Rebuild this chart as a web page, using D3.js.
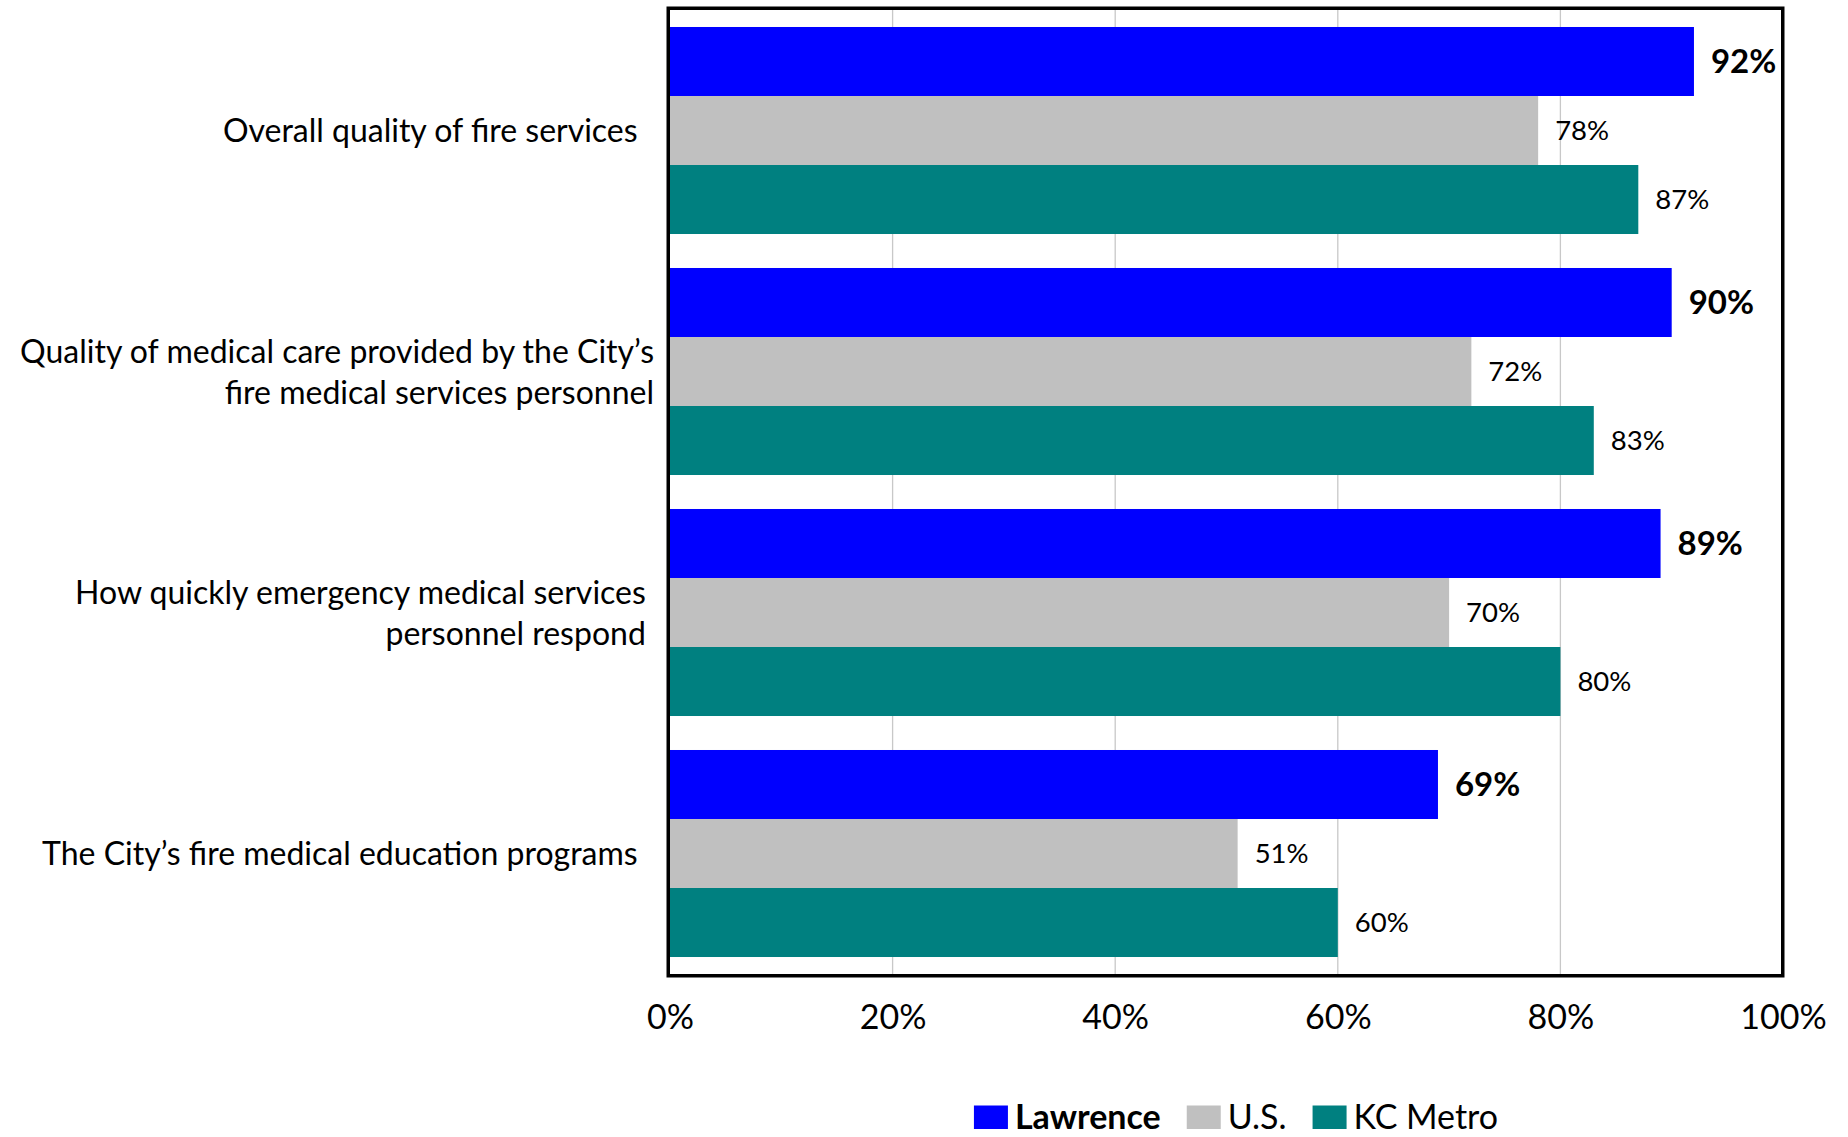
<!DOCTYPE html>
<html>
<head>
<meta charset="utf-8">
<script src="https://cdn.jsdelivr.net/npm/d3@7"></script>
<style>
  html, body { margin: 0; padding: 0; background: #fff; }
  svg { display: block; font-family: Lato, "Open Sans", sans-serif; }
</style>
</head>
<body>
<svg id="chart" width="1848" height="1137"></svg>
<script>
// Survey categories (each entry holds the wrapped lines of its label)
const categories = [
  ["Overall quality of fire services  "],
  ["Quality of medical care provided by the City\u2019s", "fire medical services personnel"],
  ["How quickly emergency medical services ", "personnel respond "],
  ["The City\u2019s fire medical education programs  "]
];
const seriesNames = ["Lawrence", "U.S.", "KC Metro"];
const lawrence = [92, 90, 89, 69];
const us = [78, 72, 70, 51];
const kcMetro = [87, 83, 80, 60];
const tickValues = [0, 20, 40, 60, 80, 100];
const seriesColors = ["#0000FF", "#C0C0C0", "#008080"];

const seriesValues = [lawrence, us, kcMetro];

const svg = d3.select("#chart");
const plot = { left: 670, right: 1783, top: 10, bottom: 974 };

const x = d3.scaleLinear().domain([0, 100]).range([plot.left, plot.right]);
const y0 = d3.scaleBand()
  .domain(d3.range(categories.length))
  .range([plot.top, plot.bottom])
  .paddingInner(0.141)
  .paddingOuter(0.0705);
const y1 = d3.scaleBand()
  .domain(d3.range(seriesNames.length))
  .range([0, y0.bandwidth()]);

// vertical gridlines
svg.append("g")
  .selectAll("line")
  .data(tickValues.slice(1, -1))
  .join("line")
  .attr("x1", d => x(d)).attr("x2", d => x(d))
  .attr("y1", plot.top).attr("y2", plot.bottom)
  .attr("stroke", "#c8c8c8")
  .attr("stroke-width", 1.3);

// bars
const groups = svg.append("g")
  .selectAll("g")
  .data(categories.map((c, i) => i))
  .join("g")
  .attr("transform", i => `translate(0,${y0(i)})`);

groups.selectAll("rect")
  .data(i => seriesValues.map((vals, s) => ({ s, v: vals[i] })))
  .join("rect")
  .attr("x", x(0))
  .attr("y", d => y1(d.s))
  .attr("width", d => x(d.v) - x(0))
  .attr("height", y1.bandwidth())
  .attr("fill", d => seriesColors[d.s]);

// value labels (Lawrence emphasised in bold)
groups.selectAll("text")
  .data(i => seriesValues.map((vals, s) => ({ s, v: vals[i] })))
  .join("text")
  .attr("x", d => x(d.v) + 17)
  .attr("y", d => y1(d.s) + y1.bandwidth() / 2)
  .attr("dy", "0.36em")
  .attr("font-size", d => d.s === 0 ? 33 : 27.5)
  .attr("font-weight", d => d.s === 0 ? "bold" : "normal")
  .attr("fill", "#000")
  .text(d => d.v + "%");

// plot frame
svg.append("rect")
  .attr("x", plot.left - 1.75)
  .attr("y", plot.top - 1.75)
  .attr("width", plot.right - plot.left + 1.5)
  .attr("height", plot.bottom - plot.top + 3.5)
  .attr("fill", "none")
  .attr("stroke", "#000")
  .attr("stroke-width", 3.5);

// category labels
const lineGap = 41;
svg.append("g")
  .selectAll("text")
  .data(categories.map((lines, i) => ({ lines, i })))
  .join("text")
  .attr("xml:space", "preserve")
  .style("white-space", "pre")
  .attr("text-anchor", "end")
  .attr("font-size", 32)
  .attr("fill", "#000")
  .each(function (d) {
    const cy = y0(d.i) + y0.bandwidth() / 2;
    const n = d.lines.length;
    d3.select(this).selectAll("tspan")
      .data(d.lines)
      .join("tspan")
      .attr("x", 654)
      .attr("y", (l, k) => cy + (k - (n - 1) / 2) * lineGap)
      .attr("dy", "0.36em")
      .text(l => l);
  });

// x axis labels
const axis = d3.axisBottom(x)
  .tickValues(tickValues)
  .tickFormat(d => d + "%")
  .tickSize(0)
  .tickPadding(0);
const axisG = svg.append("g")
  .attr("transform", `translate(0,${plot.bottom})`)
  .call(axis);
axisG.select(".domain").remove();
axisG.selectAll("text")
  .attr("font-family", "Lato, 'Open Sans', sans-serif")
  .attr("font-size", 34)
  .attr("fill", "#000")
  .attr("y", 55)
  .attr("dy", 0);

// legend: swatch + label per series, laid out left to right and centred
const legendCenter = 1236;
const legendBaseline = 1129;
const swatchW = 34, swatchH = 23.5, swatchGap = 7, itemGap = 26;
const legend = svg.append("g");
const items = legend.selectAll("g")
  .data(seriesNames.map((name, s) => ({ name, s })))
  .join("g");
items.append("rect")
  .attr("y", legendBaseline - swatchH)
  .attr("width", swatchW)
  .attr("height", swatchH)
  .attr("fill", d => seriesColors[d.s]);
items.append("text")
  .attr("x", swatchW + swatchGap)
  .attr("y", legendBaseline)
  .attr("font-size", 34)
  .attr("font-weight", d => d.s === 0 ? "bold" : "normal")
  .attr("fill", "#000")
  .text(d => d.name);
const widths = [];
items.each(function () {
  widths.push(swatchW + swatchGap + d3.select(this).select("text").node().getComputedTextLength());
});
const total = d3.sum(widths) + itemGap * (widths.length - 1);
let cursor = legendCenter - total / 2;
items.attr("transform", (d, i) => {
  const tx = cursor;
  cursor += widths[i] + itemGap;
  return `translate(${tx},0)`;
});
</script>
</body>
</html>
